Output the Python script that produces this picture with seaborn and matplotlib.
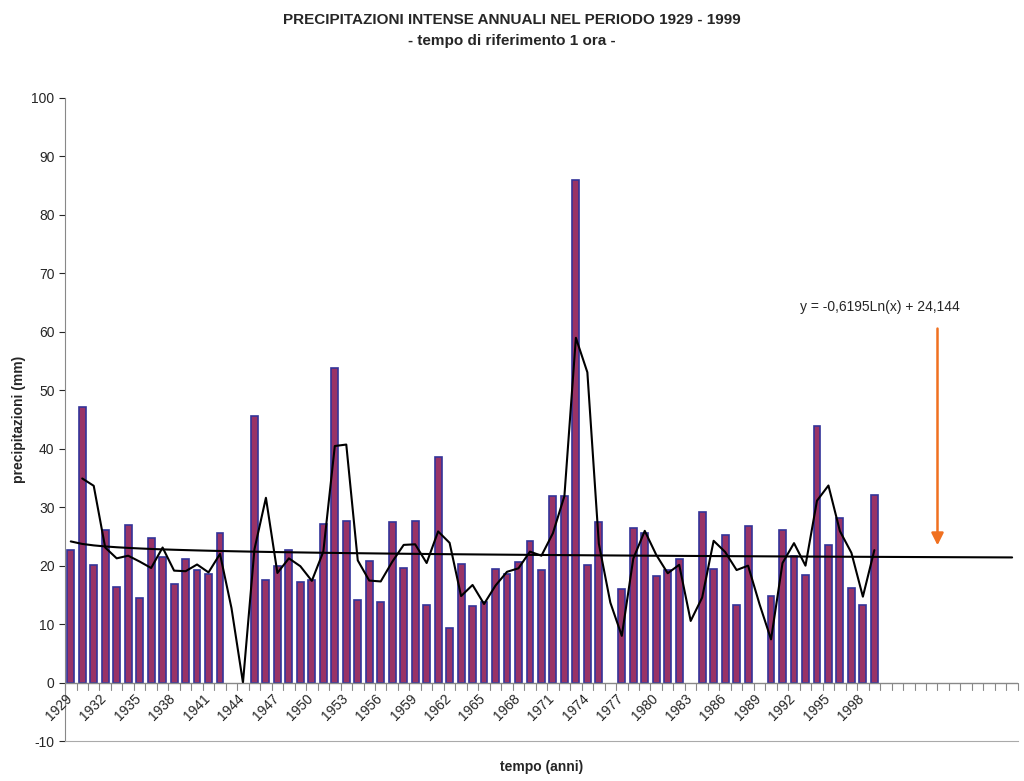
import numpy as np
import pandas as pd
import matplotlib
matplotlib.use("Agg")
import matplotlib.pyplot as plt
import seaborn as sns

sns.set_style("white")
plt.rcParams['font.family'] = ['Liberation Sans', 'DejaVu Sans']
plt.rcParams['axes.unicode_minus'] = False

anni = list(range(1929, 2000))
precipitazioni = [22.6, 47.2, 20.1, 26.1, 16.4, 27.0, 14.4, 24.8, 21.4, 16.9,
                  21.2, 19.2, 18.5, 25.5, 0, 0, 45.6, 17.6, 19.9, 22.6,
                  17.2, 17.6, 27.2, 53.7, 27.7, 14.1, 20.8, 13.8, 27.5, 19.6,
                  27.7, 13.2, 38.5, 9.3, 20.3, 13.1, 13.8, 19.4, 18.5, 20.6,
                  24.2, 19.2, 31.9, 31.9, 86.0, 20.1, 27.4, 0, 16.0, 26.4,
                  25.5, 18.2, 19.2, 21.1, 0, 29.1, 19.4, 25.3, 13.2, 26.8,
                  0, 14.8, 26.1, 21.6, 18.4, 43.8, 23.6, 28.2, 16.2, 13.2, 32.1]
n_cat = 83  # asse esteso oltre il 1999 (previsione linea di tendenza)

df = pd.DataFrame({"pos": np.arange(len(anni)), "valore": precipitazioni})
media_mobile = df["valore"].rolling(2).mean()
xt = np.arange(1, n_cat + 1)
tendenza = -0.6195 * np.log(xt) + 24.144
presenti = df[df["valore"] > 0]

fig = plt.figure(figsize=(10.24, 7.81), dpi=100, facecolor="white")
ax = fig.add_axes([0.0635, 0.051, 0.9305, 0.824])

ax.bar(presenti["pos"], presenti["valore"], width=0.6, color="#993366",
       edgecolor="#333399", linewidth=1.2)
ax.plot(df["pos"], media_mobile, color="black", lw=1.5)
ax.plot(xt - 1, tendenza, color="black", lw=1.5)

ax.set_xlim(-0.5, n_cat - 0.5)
ax.set_ylim(-10, 100)
ax.set_yticks(range(-10, 101, 10))
ax.tick_params(axis="y", labelsize=10, length=4, left=True)

ax.set_xticks([])
ax.axhline(0, color="#888888", lw=1)
for i in range(n_cat + 1):
    ax.plot([i - 0.5, i - 0.5], [0, -1.2], color="#888888", lw=0.8, clip_on=False)
for i in range(0, len(anni), 3):
    ax.text(i - 0.5, -1.5, str(anni[i]), rotation=45, ha="right", va="top",
            fontsize=10, rotation_mode="anchor")

sns.despine(ax=ax, top=True, right=True)
ax.spines["left"].set_color("#888888")
ax.spines["bottom"].set_color("#aaaaaa")

ax.annotate("", xy=(75.5, 23), xytext=(75.5, 61),
            arrowprops=dict(arrowstyle="-|>", color="#f07020", lw=1.8,
                            mutation_scale=18))
ax.text(70.5, 63, "y = -0,6195Ln(x) + 24,144", fontsize=10, ha="center", va="bottom")

ax.set_ylabel("precipitazioni (mm)", fontsize=10, fontweight="bold")
ax.set_xlabel("tempo (anni)", fontsize=10, fontweight="bold")
ax.xaxis.set_label_coords(0.5, -0.04)
ax.xaxis.label.set_va("center")
fig.text(0.5, 0.975, "PRECIPITAZIONI INTENSE ANNUALI NEL PERIODO 1929 - 1999",
         ha="center", va="center", fontsize=11, fontweight="bold")
fig.text(0.5, 0.948, "- tempo di riferimento 1 ora -",
         ha="center", va="center", fontsize=11, fontweight="bold")

fig.savefig("out.png", dpi=100)
